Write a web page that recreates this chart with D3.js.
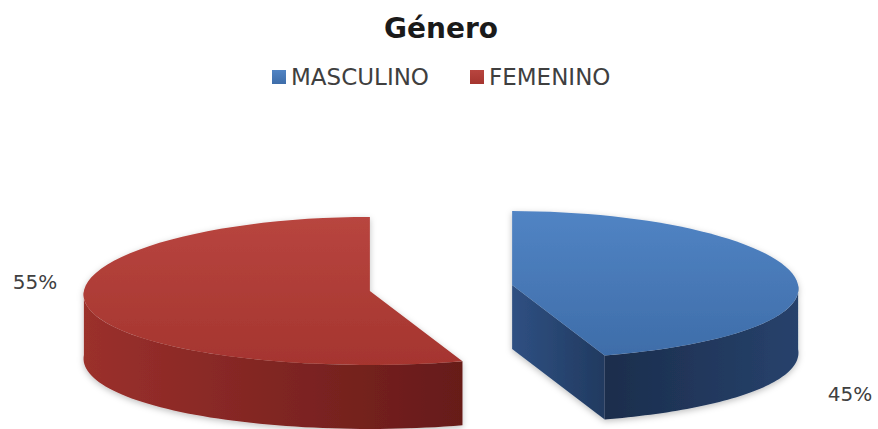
<!DOCTYPE html>
<html>
<head>
<meta charset="utf-8">
<script src="https://cdn.jsdelivr.net/npm/d3@7"></script>
<style>
  body { margin: 0; background: #fff; }
  svg { display: block; font-family: "DejaVu Sans", sans-serif; }
</style>
</head>
<body>
<svg id="chart" width="878" height="429"></svg>
<script>
// chart data
const categories = ["MASCULINO", "FEMENINO"];
const values = [45, 55];
const pctLabels = ["45%", "55%"];
const title = "Género";

// look of each slice
const topColors  = { MASCULINO: ["#5184c4", "#3e6da9"], FEMENINO: ["#b8453f", "#a5352f"] };
const wallColors = { MASCULINO: ["#1b2d4c", "#27426c"], FEMENINO: ["#9b302c", "#661b19"] };
const faceColors = { MASCULINO: ["#2f5082", "#213a60"], FEMENINO: ["#8a2a27", "#6e1e1c"] };
const labelPos   = { MASCULINO: [850, 401], FEMENINO: [35, 289] };

const W = 878, H = 429;
const cx = 441, cy = 288, rx = 286, ry = 74, depth = 64, explode = 72;
const persp = 0.05; // near side drawn a little wider

const svg = d3.select("#chart");
const defs = svg.append("defs");

const makeGrad = (id, stops, vertical) => {
    const g = defs.append("linearGradient").attr("id", id)
        .attr("x1", 0).attr("y1", 0)
        .attr("x2", vertical ? 0 : 1).attr("y2", vertical ? 1 : 0);
    g.append("stop").attr("offset", "0%").attr("stop-color", stops[0]);
    g.append("stop").attr("offset", "100%").attr("stop-color", stops[1]);
}

categories.forEach((c, i) => {
    makeGrad("top" + i, topColors[c], true);
    makeGrad("wall" + i, wallColors[c], false);
    makeGrad("face" + i, faceColors[c], false);
});

const shadow = defs.append("filter").attr("id", "soft")
    .attr("x", "-10%").attr("y", "-10%").attr("width", "120%").attr("height", "130%");
shadow.append("feDropShadow").attr("dx", 0).attr("dy", 2).attr("stdDeviation", 3)
    .attr("flood-color", "#000").attr("flood-opacity", 0.25);

// pie layout, angles clockwise from 12 o'clock
const pie = d3.pie().sort(null).value(d => d.value);
const arcs = pie(categories.map((c, i) => ({ name: c, value: values[i], label: pctLabels[i] })));

const pt = (c, a, dy = 0) => [
    c[0] + rx * Math.sin(a) * (1 - persp * Math.cos(a)),
    c[1] - ry * Math.cos(a) + dy
];
const samples = (a0, a1) => d3.range(0, 61).map(k => a0 + (a1 - a0) * k / 60);
const line = d3.line();

const slices = arcs.map((d, i) => {
    const mid = (d.startAngle + d.endAngle) / 2;
    const c = [cx + explode * Math.sin(mid), cy - explode * Math.cos(mid) * ry / rx];
    return { d, i, c };
});

const g = svg.append("g").attr("filter", "url(#soft)");

// sides first
slices.forEach(({ d, i, c }) => {
    // radial face at the end angle (visible when it faces the viewer)
    const a1 = d.endAngle;
    if (Math.cos(a1) < 0 && a1 < Math.PI * 2 - 1e-6) {
        const p = pt(c, a1);
        g.append("path")
            .attr("d", line([c, p, [p[0], p[1] + depth], [c[0], c[1] + depth]]) + "Z")
            .attr("fill", `url(#face${i})`);
    }
    // outer wall, front half only
    const w0 = Math.max(d.startAngle, Math.PI / 2), w1 = Math.min(d.endAngle, Math.PI * 1.5);
    if (w1 > w0) {
        const top = samples(w0, w1).map(a => pt(c, a));
        const bottom = samples(w0, w1).reverse().map(a => pt(c, a, depth));
        g.append("path")
            .attr("d", line(top.concat(bottom)) + "Z")
            .attr("fill", `url(#wall${i})`);
    }
});

// top faces
slices.forEach(({ d, i, c }) => {
    const rim = samples(d.startAngle, d.endAngle).map(a => pt(c, a));
    g.append("path")
        .attr("d", line([c].concat(rim)) + "Z")
        .attr("fill", `url(#top${i})`);
});

// percentage labels
slices.forEach(({ d }) => {
    const p = labelPos[d.data.name];
    svg.append("text")
        .attr("x", p[0]).attr("y", p[1])
        .attr("text-anchor", "middle")
        .attr("font-size", 20)
        .attr("fill", "#404040")
        .text(d.data.label);
});

// title
svg.append("text")
    .attr("x", 441).attr("y", 38)
    .attr("text-anchor", "middle")
    .attr("font-size", 28)
    .attr("font-weight", "bold")
    .attr("fill", "#1a1a1a")
    .text(title);

// legend
const legendX = d3.scaleOrdinal().domain(categories).range([272, 470]);
const legend = svg.selectAll(".legendItem")
    .data(categories)
    .enter()
    .append("g")
    .attr("class", "legendItem")
    .attr("transform", d => `translate(${legendX(d)},70)`);

legend.append("rect")
    .attr("width", 14).attr("height", 14)
    .attr("fill", (d, i) => `url(#top${i})`);

legend.append("text")
    .attr("x", 19).attr("y", 15)
    .attr("font-size", 23)
    .attr("fill", "#3f3f3f")
    .text(d => d);
</script>
</body>
</html>
